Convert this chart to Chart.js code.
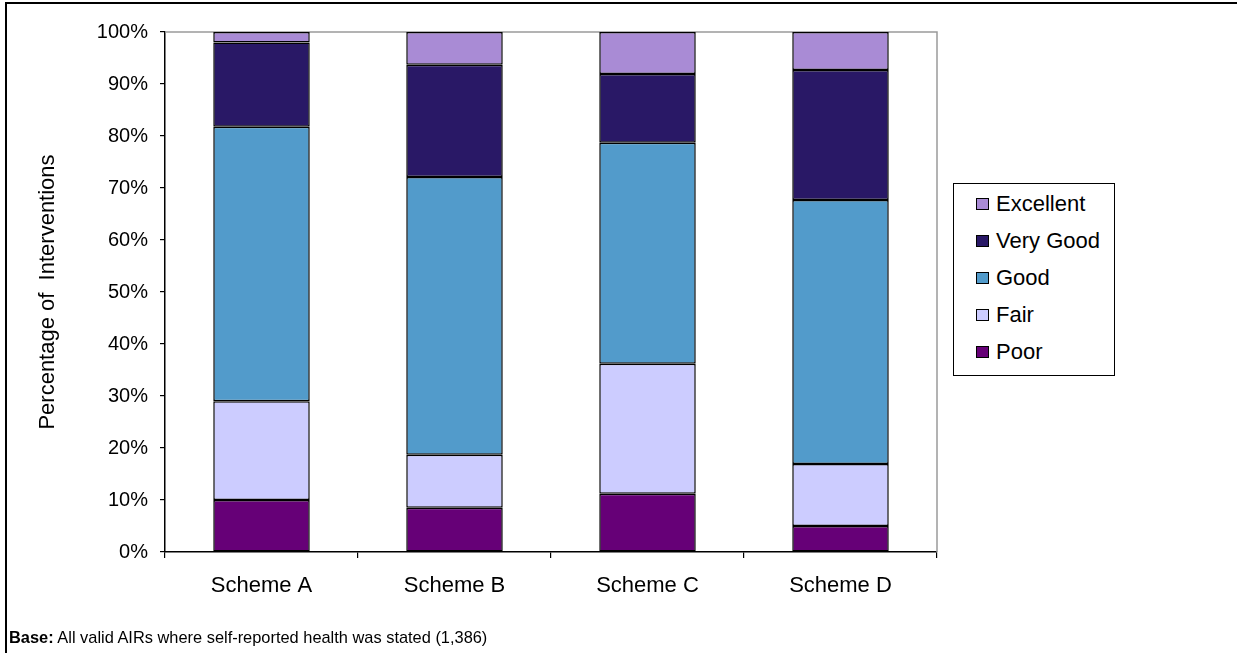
<!DOCTYPE html>
<html>
<head>
<meta charset="utf-8">
<script src="https://cdn.jsdelivr.net/npm/chart.js@4/dist/chart.umd.min.js"></script>
<style>
  html, body { margin: 0; padding: 0; background: #fff; overflow: hidden; }
  body { width: 1237px; height: 653px; position: relative; font-family: "Liberation Sans", Arial, sans-serif; }
  #frame { position: absolute; left: 5px; top: 2px; width: 1300px; height: 700px; border-left: 2px solid #000; border-top: 2px solid #000; box-sizing: border-box; }
  #chart { position: absolute; left: 0; top: 0; }
  #legend { position: absolute; left: 953px; top: 183px; width: 162px; height: 193px; border: 1px solid #000; box-sizing: border-box; background: #fff; }
  .item { position: absolute; left: 22px; height: 24px; line-height: 24px; font-size: 22px; color: #000; white-space: nowrap; }
  .swatch { position: absolute; left: 0; top: 6px; width: 13px; height: 12px; border: 1px solid #000; box-sizing: border-box; }
  .item span { position: absolute; left: 20px; top: 0; }
  #base { position: absolute; left: 9px; top: 628px; font-size: 16.4px; color: #000; white-space: nowrap; }
</style>
</head>
<body>
<div id="frame"></div>
<canvas id="chart" width="1237" height="653"></canvas>
<div id="legend"></div>
<div id="base"><b>Base:</b> All valid AIRs where self-reported health was stated (1,386)</div>
<script>
// Schemes along the x axis
const schemes = ['Scheme A', 'Scheme B', 'Scheme C', 'Scheme D'];

// Share of interventions (%) by self-reported health, per scheme
const poor      = [10.0, 8.5, 11.2, 5.0];
const fair      = [19.0, 10.2, 25.0, 11.9];
const good      = [52.8, 53.4, 42.5, 50.8];
const veryGood  = [16.2, 21.6, 13.2, 25.0];
const excellent = [2.0, 6.3, 8.1, 7.3];

// Category names and fills, stacked bottom to top
const healthLabels = ['Poor', 'Fair', 'Good', 'Very Good', 'Excellent'];
const healthColors = ['#660077', '#CCCCFF', '#529BCB', '#291866', '#A98BD5'];
const healthSeries = [poor, fair, good, veryGood, excellent];

// Percentage ticks on the value axis
const yTicks = [0, 10, 20, 30, 40, 50, 60, 70, 80, 90, 100];

const FAMILY = '"Liberation Sans", Arial, sans-serif';
const TICK_FONT = { family: FAMILY, size: 20 };
const LABEL_FONT = { family: FAMILY, size: 22 };

// Gray frame on the top and right of the plot area
const plotFrame = {
  id: 'plotFrame',
  beforeDatasetsDraw(chart) {
    const { ctx, chartArea: a } = chart;
    ctx.save();
    ctx.strokeStyle = '#9a9a9a';
    ctx.lineWidth = 1.5;
    ctx.beginPath();
    ctx.moveTo(a.left, a.top);
    ctx.lineTo(a.right, a.top);
    ctx.lineTo(a.right, a.bottom);
    ctx.stroke();
    ctx.restore();
  }
};

new Chart(document.getElementById('chart'), {
  type: 'bar',
  data: {
    labels: schemes,
    datasets: healthSeries.map((values, i) => ({
      label: healthLabels[i],
      data: values,
      backgroundColor: healthColors[i],
      borderColor: '#000',
      borderWidth: 1.5,
      borderSkipped: false,
      categoryPercentage: 1.0,
      barPercentage: 0.5
    }))
  },
  options: {
    responsive: false,
    animation: false,
    devicePixelRatio: 1,
    layout: { padding: { left: 32, top: 32, right: 300, bottom: 40 } },
    plugins: {
      legend: { display: false },
      tooltip: { enabled: false },
      title: { display: false }
    },
    scales: {
      x: {
        stacked: true,
        afterFit(scale) { scale.height = 61; },
        grid: { display: true, drawOnChartArea: false, offset: true, tickLength: 6, color: '#000', lineWidth: 1.2 },
        border: { display: true, color: '#000', width: 1.5 },
        ticks: { color: '#000', font: LABEL_FONT, padding: 15, maxRotation: 0 }
      },
      y: {
        stacked: true,
        min: 0,
        max: 100,
        afterFit(scale) { scale.width = 133; },
        afterBuildTicks(scale) { scale.ticks = yTicks.map(v => ({ value: v })); },
        grid: { display: true, drawOnChartArea: false, tickLength: 5, color: '#000', lineWidth: 1.2 },
        border: { display: true, color: '#000', width: 1.5 },
        ticks: { color: '#000', font: TICK_FONT, padding: 12, callback: v => v + '%' },
        title: {
          display: true,
          text: 'Percentage of  Interventions',
          color: '#000',
          font: LABEL_FONT,
          padding: { top: 3, bottom: 4 }
        }
      }
    }
  },
  plugins: [plotFrame]
});

// Legend, listed top of the stack first
const legend = document.getElementById('legend');
const rowTops = [8, 45, 82, 119, 156];
healthLabels.slice().reverse().forEach((name, k) => {
  const idx = healthLabels.length - 1 - k;
  const item = document.createElement('div');
  item.className = 'item';
  item.style.top = rowTops[k] + 'px';
  const sw = document.createElement('div');
  sw.className = 'swatch';
  sw.style.background = healthColors[idx];
  const txt = document.createElement('span');
  txt.textContent = name;
  item.appendChild(sw);
  item.appendChild(txt);
  legend.appendChild(item);
});
</script>
</body>
</html>
